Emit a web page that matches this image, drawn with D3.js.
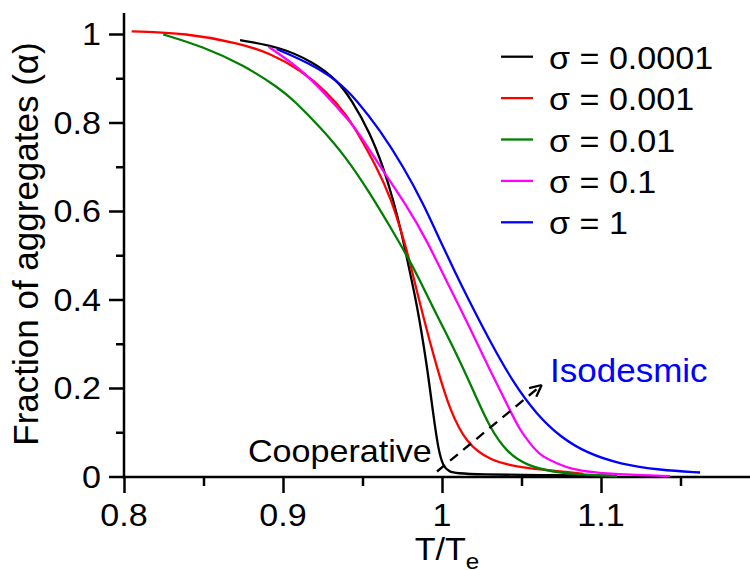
<!DOCTYPE html>
<html>
<head>
<meta charset="UTF-8">
<title>Fraction of aggregates</title>
<script src="https://cdn.jsdelivr.net/npm/d3@7"></script>
<style type="text/css">
	body { margin:0; background:white; }
	svg text { font-family: "Liberation Sans", Arial, sans-serif; fill:black; }
</style>
</head>
<body>
<script type="text/javascript">

// --- data (T/Te , alpha) ---
var sigmas = ['0.0001', '0.001', '0.01', '0.1', '1'];
var colors = ['#000000', '#ff0000', '#008000', '#ff00ff', '#0000ff'];

var tBlack = [0.873,0.898,0.919,0.934,0.9432,0.9547,0.963,0.9694,0.9747,0.9788,0.9841,0.9904,0.9945,0.9977,1.0008,1.0045,1.0092,1.024,1.06,1.107];
var aBlack = [0.986,0.971,0.937,0.896,0.851,0.777,0.700,0.624,0.549,0.478,0.392,0.255,0.140,0.060,0.022,0.011,0.0072,0.0045,0.003,0.002];

var tRed = [0.8048,0.839,0.873,0.892,0.911,0.9275,0.940,0.9463,0.9589,0.9684,0.9747,0.9788,0.9882,0.9967,1.005,1.0155,1.0302,1.049,1.074,1.0889];
var aRed = [1.006,1.002,0.979,0.956,0.919,0.869,0.817,0.780,0.700,0.624,0.549,0.500,0.360,0.247,0.149,0.074,0.036,0.020,0.012,0.006];

var tGreen = [0.8247,0.8499,0.875,0.898,0.9065,0.9233,0.940,0.9547,0.9673,0.9778,0.9862,0.9945,1.0092,1.0218,1.0302,1.0407,1.0532,1.074,1.11];
var aGreen = [0.999,0.971,0.930,0.877,0.851,0.790,0.720,0.640,0.565,0.500,0.443,0.380,0.278,0.177,0.110,0.055,0.024,0.006,0.001];

var tMagenta = [0.891,0.911,0.9275,0.944,0.9484,0.963,0.9778,0.9904,1.003,1.0176,1.0302,1.0428,1.049,1.0553,1.0616,1.074,1.0805,1.095,1.112,1.1434];
var aMagenta = [0.971,0.922,0.861,0.794,0.772,0.690,0.612,0.534,0.440,0.336,0.240,0.149,0.105,0.075,0.047,0.027,0.018,0.009,0.0045,0.001];

var tBlue = [0.896,0.915,0.934,0.9463,0.961,0.9757,0.9882,0.9987,1.0082,1.0155,1.0302,1.0448,1.0596,1.0742,1.091,1.112,1.1371,1.1623];
var aBlue = [0.966,0.937,0.896,0.851,0.783,0.700,0.617,0.534,0.462,0.408,0.305,0.212,0.140,0.090,0.053,0.028,0.0145,0.009];

var seriesT = [tBlack, tRed, tGreen, tMagenta, tBlue];
var seriesA = [aBlack, aRed, aGreen, aMagenta, aBlue];

var xMajor = [0.8, 0.9, 1.0, 1.1], xMinor = [0.85, 0.95, 1.05, 1.15];
var xLabels = ['0.8', '0.9', '1', '1.1'];
var yMajor = [0, 0.2, 0.4, 0.6, 0.8, 1], yMinor = [0.1, 0.3, 0.5, 0.7, 0.9];
var yLabels = ['0', '0.2', '0.4', '0.6', '0.8', '1'];

var large = 750, haut = 570,
 fs = 31, sx = 1.1,   // le texte de l'image est étiré horizontalement
 aw = 2.5;

var x = d3.scaleLinear().domain([0.8, 1.2]).range([124, 760]);
var y = d3.scaleLinear().domain([0, 1]).range([476.5, 34]);

var svg = d3.select('body').append('svg')
	.attr('width', large)
	.attr('height', haut);

function txt(g, px, py, s, anchor, size, k) {
	return g.append('text')
		.attr('transform', 'translate(' + px + ',' + py + ') scale(' + (k || sx) + ',1)')
		.attr('text-anchor', anchor || 'start')
		.style('font-size', (size || fs) + 'px')
		.text(s);
}

// axes
var xAxisMaj = d3.axisBottom(x).tickValues(xMajor).tickSize(16).tickFormat('');
var xAxisMin = d3.axisBottom(x).tickValues(xMinor).tickSize(9).tickFormat('');
var yAxisMaj = d3.axisLeft(y).tickValues(yMajor).tickSize(15).tickFormat('');
var yAxisMin = d3.axisLeft(y).tickValues(yMinor).tickSize(8).tickFormat('');

[xAxisMaj, xAxisMin].forEach(function(a){
	svg.append('g').attr('transform', 'translate(0,477)').call(a)
		.call(function(g){ g.select('.domain').remove(); })
		.selectAll('line').attr('stroke', 'black').attr('stroke-width', aw);
});
[yAxisMaj, yAxisMin].forEach(function(a){
	svg.append('g').attr('transform', 'translate(124,0)').call(a)
		.call(function(g){ g.select('.domain').remove(); })
		.selectAll('line').attr('stroke', 'black').attr('stroke-width', aw);
});
svg.append('line').attr('x1', 122.75).attr('x2', large).attr('y1', 477).attr('y2', 477)
	.attr('stroke', 'black').attr('stroke-width', aw);
svg.append('line').attr('x1', 124).attr('x2', 124).attr('y1', 13).attr('y2', 478.25)
	.attr('stroke', 'black').attr('stroke-width', aw);

// tick labels
xMajor.forEach(function(v, i){ txt(svg, x(v), 526, xLabels[i], 'middle'); });
yMajor.forEach(function(v, i){ txt(svg, 101, y(v) + 11, yLabels[i], 'end'); });

// axis titles
svg.append('text')
	.attr('transform', 'translate(38,244) rotate(-90)')
	.attr('text-anchor', 'middle')
	.style('font-size', '35px')
	.text('Fraction of aggregates (\u03b1)');

var xt = svg.append('text')
	.attr('transform', 'translate(447,560) scale(' + sx + ',1)')
	.attr('text-anchor', 'middle')
	.style('font-size', fs + 'px');
xt.append('tspan').text('T/T');
xt.append('tspan').attr('dy', 9).style('font-size', '22px').text('e');

// courbes
var line = d3.line()
	.x(function(d){ return x(d[0]); })
	.y(function(d){ return y(d[1]); })
	.curve(d3.curveBasis);

seriesT.forEach(function(ts, k){
	var pts = ts.map(function(t, i){ return [t, seriesA[k][i]]; });
	svg.append('path')
		.attr('d', line(pts))
		.attr('fill', 'none')
		.attr('stroke', colors[k])
		.attr('stroke-width', 2.3);
});

// légende
sigmas.forEach(function(s, i){
	var ly = 56.7 + i * 41.4;
	svg.append('line').attr('x1', 501).attr('x2', 533).attr('y1', ly).attr('y2', ly)
		.attr('stroke', colors[i]).attr('stroke-width', 2.3);
	txt(svg, 549, ly + 12, '\u03c3 = ' + s, 'start');
});

// annotations
txt(svg, 248, 462, 'Cooperative', 'start');
txt(svg, 550, 382, 'Isodesmic', 'start', 34, 1.03).style('fill', '#0000ff');

svg.append('line')
	.attr('x1', 437).attr('y1', 471.5).attr('x2', 540).attr('y2', 386.5)
	.attr('stroke', 'black').attr('stroke-width', 2.3)
	.attr('stroke-dasharray', '10,7');
var ang = Math.atan2(386.5 - 471.5, 540 - 437);
[-0.45, 0.45].forEach(function(da){
	var a = ang + Math.PI + da;
	svg.append('line')
		.attr('x1', 541.7).attr('y1', 385)
		.attr('x2', 541.7 + 13 * Math.cos(a)).attr('y2', 385 + 13 * Math.sin(a))
		.attr('stroke', 'black').attr('stroke-width', 2.3);
});

</script>
</body>
</html>
